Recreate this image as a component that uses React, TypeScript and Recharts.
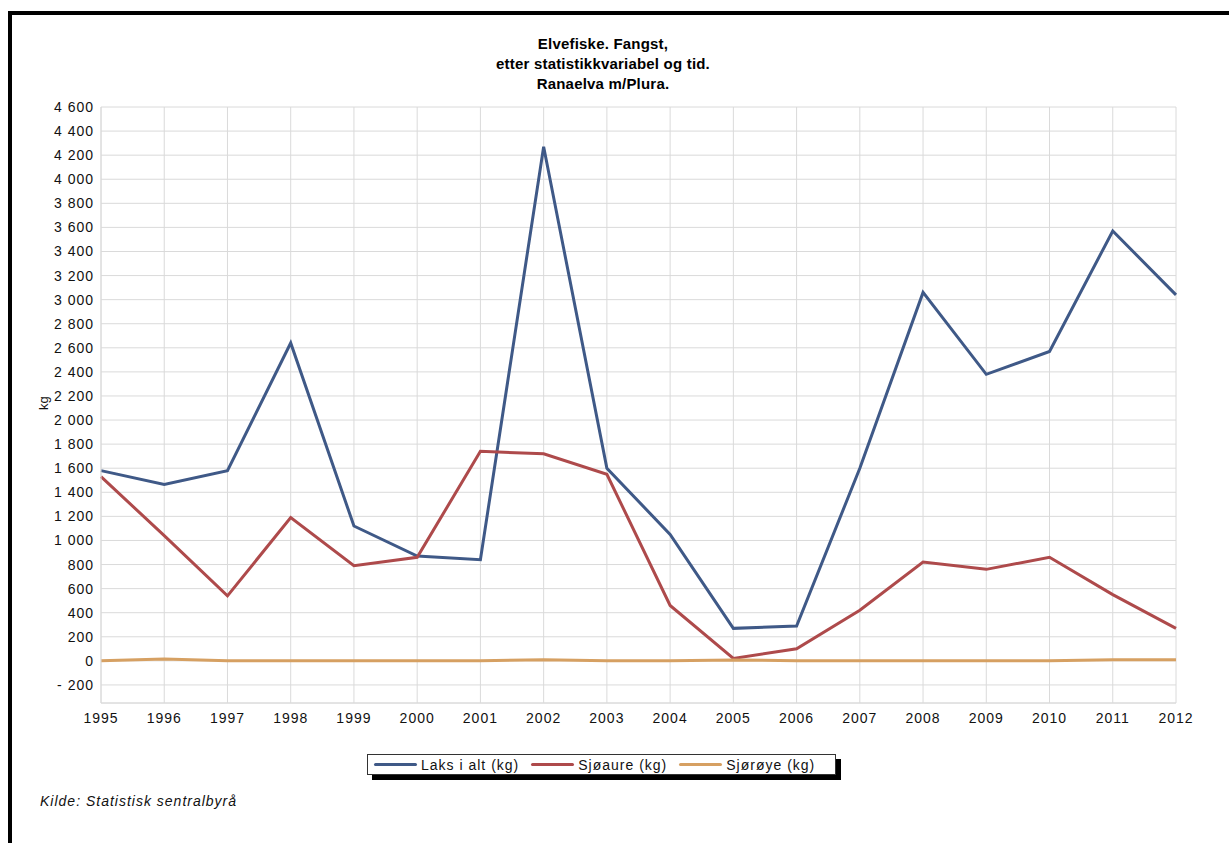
import { CartesianGrid, Legend, Line, LineChart, XAxis, YAxis } from 'recharts';

// Elvefiske, fangst i Ranaelva m/Plura (kg)
const years = ['1995', '1996', '1997', '1998', '1999', '2000', '2001', '2002', '2003', '2004', '2005', '2006', '2007', '2008', '2009', '2010', '2011', '2012'];
const laksIAlt = [1580, 1465, 1580, 2640, 1120, 870, 840, 4270, 1600, 1050, 270, 290, 1600, 3060, 2380, 2570, 3570, 3040];
const sjoaure = [1530, 1040, 540, 1190, 790, 860, 1740, 1720, 1550, 460, 20, 100, 420, 820, 760, 860, 550, 270];
const sjoroye = [0, 15, 0, 0, 0, 0, 0, 10, 0, 0, 8, 0, 0, 0, 0, 0, 10, 10];
const yTicks = [-200, 0, 200, 400, 600, 800, 1000, 1200, 1400, 1600, 1800, 2000, 2200, 2400, 2600, 2800, 3000, 3200, 3400, 3600, 3800, 4000, 4200, 4400, 4600];
const titleLines = ['Elvefiske. Fangst,', 'etter statistikkvariabel og tid.', 'Ranaelva m/Plura.'];

const data = years.map((year, i) => ({
  year,
  laks: laksIAlt[i],
  aure: sjoaure[i],
  roye: sjoroye[i],
}));

const FONT = '"Liberation Sans", Arial, sans-serif';
const GRID = '#dadada';

// 4600 -> "4 600", -200 -> "- 200"
const fmt = (v: number) => {
  const s = String(Math.abs(v)).replace(/\B(?=(\d{3})+(?!\d))/g, ' ');
  return v < 0 ? '- ' + s : s;
};

function LegendBox({ payload }: any) {
  return (
    <div
      style={{
        display: 'flex',
        alignItems: 'center',
        border: '1px solid #333',
        background: '#fff',
        boxShadow: '5px 5px 0 #000',
        height: 19,
        padding: '0 6px',
        fontFamily: FONT,
        fontSize: 14,
        letterSpacing: 1,
        color: '#111',
        whiteSpace: 'nowrap',
      }}
    >
      {(payload || []).map((p: any, i: number) => (
        <span key={i} style={{ display: 'inline-flex', alignItems: 'center', marginRight: i < 2 ? 12 : 14 }}>
          <span style={{ display: 'inline-block', width: 43, height: 3, borderRadius: 2, background: p.color, marginRight: 4 }} />
          {p.value}
        </span>
      ))}
    </div>
  );
}

export default function App() {
  return (
    <div
      style={{
        position: 'absolute',
        left: 0,
        top: 0,
        width: 1229,
        height: 843,
        overflow: 'hidden',
        background: '#fff',
      }}
    >
      {/* black frame, runs off the right and bottom edges */}
      <div
        style={{
          position: 'absolute',
          left: 8,
          top: 11,
          width: 1240,
          height: 860,
          borderLeft: '4px solid #000',
          borderTop: '4px solid #000',
        }}
      />

      {/* Title */}
      <div
        style={{
          position: 'absolute',
          left: 403,
          top: 34,
          width: 400,
          textAlign: 'center',
          fontFamily: FONT,
          fontWeight: 700,
          fontSize: 15,
          lineHeight: '20px',
          letterSpacing: 0.2,
          color: '#000',
        }}
      >
        {titleLines.map((t) => (
          <div key={t}>{t}</div>
        ))}
      </div>

      <div style={{ position: 'absolute', left: 0, top: 0 }}>
        <LineChart width={1229} height={843} data={data} margin={{ top: 107, right: 53, bottom: 110, left: 21 }}>
          <CartesianGrid stroke={GRID} strokeWidth={1} />
          <XAxis
            dataKey="year"
            height={30}
            interval={0}
            tickLine={false}
            axisLine={{ stroke: GRID }}
            tickMargin={4}
            tick={{ fill: '#111', fontSize: 14, fontFamily: FONT, letterSpacing: 1 }}
          />
          <YAxis
            width={80}
            domain={[-350, 4600]}
            ticks={yTicks}
            allowDataOverflow
            tickLine={false}
            axisLine={{ stroke: GRID }}
            tickMargin={1}
            tickFormatter={fmt}
            tick={{ fill: '#111', fontSize: 14, fontFamily: FONT, letterSpacing: 1 }}
            label={(props: any) => {
              const vb = props.viewBox;
              const x = vb.x + 22;
              const y = vb.y + vb.height / 2 - 2;
              return (
                <text x={x} y={y} transform={`rotate(-90 ${x} ${y})`} textAnchor="middle" dominantBaseline="central" fontFamily={FONT} fontSize={13} fill="#111">
                  kg
                </text>
              );
            }}
          />
          <Legend
            layout="horizontal"
            verticalAlign="middle"
            content={<LegendBox />}
            wrapperStyle={{ position: 'absolute', left: 367, top: 754, width: 'auto' }}
          />
          <Line type="linear" dataKey="laks" name="Laks i alt (kg)" stroke="#3f5987" strokeWidth={3} dot={false} isAnimationActive={false} />
          <Line type="linear" dataKey="aure" name="Sjøaure (kg)" stroke="#ae4a4b" strokeWidth={3} dot={false} isAnimationActive={false} />
          <Line type="linear" dataKey="roye" name="Sjørøye (kg)" stroke="#d6a062" strokeWidth={3} dot={false} isAnimationActive={false} />
        </LineChart>
      </div>

      {/* Source */}
      <div
        style={{
          position: 'absolute',
          left: 40,
          top: 793,
          fontFamily: FONT,
          fontStyle: 'italic',
          fontSize: 14,
          letterSpacing: 1,
          color: '#111',
        }}
      >
        Kilde: Statistisk sentralbyrå
      </div>
    </div>
  );
}
